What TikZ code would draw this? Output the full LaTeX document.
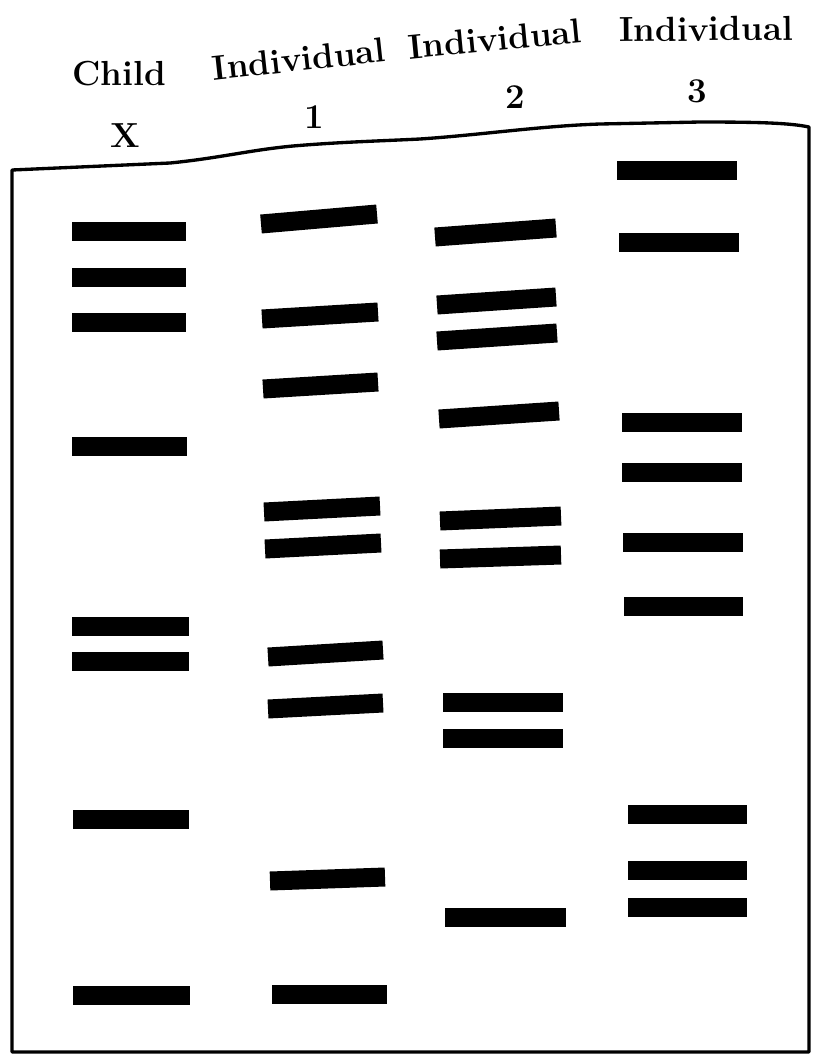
\documentclass[tikz,border=0pt]{standalone}
\usepackage{tikz}
\usetikzlibrary{positioning}

\begin{document}
\begin{tikzpicture}[
    x=0.02cm, y=-0.02cm,
    lbl/.style={anchor=base, inner sep=0pt, font=\bfseries\fontsize{19.8}{23}\selectfont},
    band/.style={line width=0.38cm, line cap=butt},
    frame/.style={line width=1.9pt, line join=round}
]
    \useasboundingbox (0,0) rectangle (812,1062);

    % Spaltenbeschriftung
    \node[lbl] (child) at (119,85) {Child};
    \node[lbl] (childx) at (125,147) {X};
    \node[lbl, rotate=6.2] (ind1) at (300,71) {Individual};
    \node[lbl] (ind1n) at (314,128) {1};
    \node[lbl, rotate=5.5] (ind2) at (496,51) {Individual};
    \node[lbl] (ind2n) at (515,108) {2};
    \node[lbl, rotate=0.6] (ind3) at (706,41) {Individual};
    \node[lbl] (ind3n) at (697,102) {3};

    % Gel-Rahmen
    \draw[frame] (12,170) -- (170,163)
        .. controls (220,158) and (250,150) .. (293,146)
        .. controls (340,142) and (380,141) .. (420,139)
        .. controls (480,135) and (540,126) .. (600,124)
        -- (700,122) .. controls (760,122) and (790,123) .. (809,127)
        -- (809,1052) -- (12,1052) -- cycle;

    % Banden: Child X
    \foreach \xa/\xb/\yy in {72/186/231, 72/186/277, 72/186/322, 72/187/446,
                             72/189/626, 72/189/661, 73/189/819, 73/190/995}
        \draw[band] (\xa,\yy) -- (\xb,\yy);

    % Banden: Individual 1
    \foreach \xa/\ya/\xb/\yb in {261/224/377/214, 262/319/378/312, 263/389/378/382,
                                 264/512/380/506, 265/549/381/543, 268/657/383/650,
                                 268/709/383/703, 270/881/385/877, 272/994/387/994}
        \draw[band] (\xa,\ya) -- (\xb,\yb);

    % Banden: Individual 2
    \foreach \xa/\ya/\xb/\yb in {435/237/556/228, 437/305/556/297, 437/341/557/333,
                                 439/419/559/411, 440/521/561/516, 440/559/561/555,
                                 443/702/563/702, 443/738/563/738, 445/917/566/917}
        \draw[band] (\xa,\ya) -- (\xb,\yb);

    % Banden: Individual 3
    \foreach \xa/\xb/\yy in {617/737/170, 619/739/242, 622/742/422, 622/742/472,
                             623/743/542, 624/743/606, 628/747/814, 628/747/870,
                             628/747/907}
        \draw[band] (\xa,\yy) -- (\xb,\yy);
\end{tikzpicture}
\end{document}
